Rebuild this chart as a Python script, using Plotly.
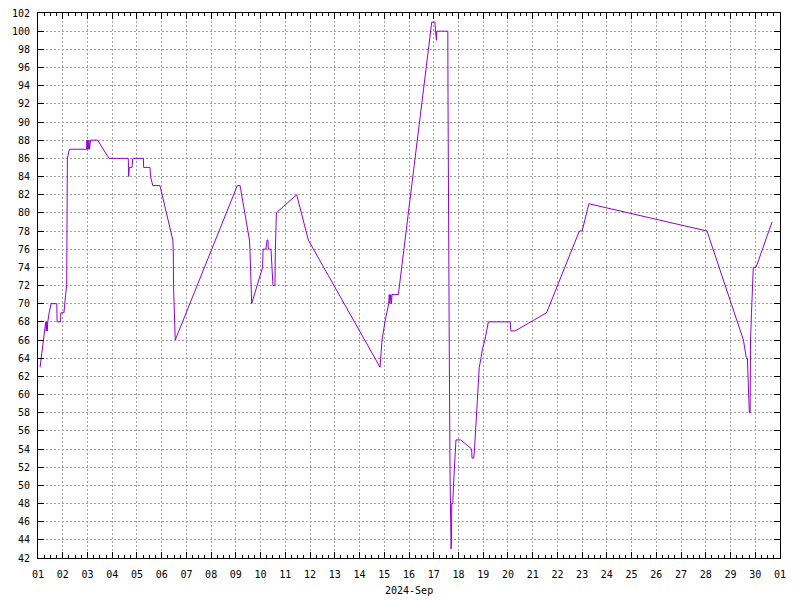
import plotly.graph_objects as go

times = [
    "2024-09-01 02:00", "2024-09-01 03:00", "2024-09-01 04:00", "2024-09-01 05:00",
    "2024-09-01 06:30", "2024-09-01 07:30", "2024-09-01 08:00", "2024-09-01 08:30",
    "2024-09-01 09:00", "2024-09-01 09:30", "2024-09-01 10:50", "2024-09-01 12:40",
    "2024-09-01 18:15", "2024-09-01 18:30", "2024-09-01 21:50", "2024-09-01 22:10",
    "2024-09-02 01:10", "2024-09-02 01:40", "2024-09-02 02:50", "2024-09-02 03:50",
    "2024-09-02 04:30", "2024-09-02 06:30", "2024-09-02 23:15", "2024-09-02 23:30",
    "2024-09-02 23:50", "2024-09-03 00:20", "2024-09-03 00:50", "2024-09-03 01:30",
    "2024-09-03 02:00", "2024-09-03 03:00", "2024-09-03 09:50", "2024-09-03 20:50",
    "2024-09-04 15:35", "2024-09-04 15:50", "2024-09-04 16:05", "2024-09-04 16:30",
    "2024-09-04 19:10", "2024-09-04 19:30", "2024-09-04 19:45", "2024-09-04 20:00",
    "2024-09-05 06:15", "2024-09-05 06:30", "2024-09-05 12:40", "2024-09-05 13:10",
    "2024-09-05 15:20", "2024-09-05 22:20", "2024-09-06 10:50", "2024-09-06 11:15",
    "2024-09-06 11:30", "2024-09-06 12:30", "2024-09-06 13:10", "2024-09-09 01:25",
    "2024-09-09 04:05", "2024-09-09 13:10", "2024-09-09 13:40", "2024-09-09 15:20",
    "2024-09-10 01:55", "2024-09-10 02:25", "2024-09-10 05:15", "2024-09-10 06:15",
    "2024-09-10 07:10", "2024-09-10 07:30", "2024-09-10 10:05", "2024-09-10 12:00",
    "2024-09-10 13:55", "2024-09-10 14:20", "2024-09-10 15:20", "2024-09-11 11:00",
    "2024-09-11 22:20", "2024-09-14 19:55", "2024-09-14 21:50", "2024-09-15 00:40",
    "2024-09-15 02:50", "2024-09-15 04:20", "2024-09-15 04:50", "2024-09-15 05:30",
    "2024-09-15 06:15", "2024-09-15 07:00", "2024-09-15 07:30", "2024-09-15 13:40",
    "2024-09-16 22:05", "2024-09-17 01:10", "2024-09-17 01:40", "2024-09-17 02:00",
    "2024-09-17 02:20", "2024-09-17 02:40", "2024-09-17 02:55", "2024-09-17 13:40",
    "2024-09-17 13:50", "2024-09-17 14:10", "2024-09-17 15:05", "2024-09-17 15:50",
    "2024-09-17 16:50", "2024-09-17 17:05", "2024-09-17 17:15", "2024-09-17 17:30",
    "2024-09-17 18:30", "2024-09-17 19:10", "2024-09-17 20:25", "2024-09-17 21:35",
    "2024-09-18 02:10", "2024-09-18 12:45", "2024-09-18 13:10", "2024-09-18 14:50",
    "2024-09-18 15:35", "2024-09-18 16:35", "2024-09-18 17:15", "2024-09-18 18:15",
    "2024-09-18 19:10", "2024-09-18 20:10", "2024-09-18 21:50", "2024-09-18 23:15",
    "2024-09-19 01:40", "2024-09-19 03:20", "2024-09-19 05:00", "2024-09-20 02:10",
    "2024-09-20 02:50", "2024-09-20 07:00", "2024-09-21 13:30", "2024-09-22 21:20",
    "2024-09-23 00:00", "2024-09-23 06:30", "2024-09-28 01:10", "2024-09-29 12:30",
    "2024-09-29 13:55", "2024-09-29 15:20", "2024-09-29 16:20", "2024-09-29 18:15",
    "2024-09-29 19:00", "2024-09-29 19:25", "2024-09-29 20:20", "2024-09-29 21:20",
    "2024-09-29 22:05", "2024-09-30 00:45", "2024-09-30 16:20",
]

values = [
    63, 64, 65, 66,
    67, 68, 67, 68,
    67, 68, 69, 70,
    70, 68, 68, 69,
    69, 70, 71, 72,
    86, 87, 87, 88,
    87, 88, 87, 88,
    87, 88, 88, 86,
    86, 85, 84, 85,
    85, 86, 85, 86,
    86, 85, 85, 84,
    83, 83, 77, 76,
    72, 68, 66, 83,
    83, 77, 76, 70,
    74, 76, 76, 77,
    77, 76, 76, 72,
    72, 76, 80, 82,
    77, 63, 66, 68,
    69, 70, 71, 70,
    71, 70, 71, 71,
    101, 101, 100, 99,
    100, 99, 100, 100,
    93, 79, 65, 51,
    43, 45, 44, 48,
    48, 50, 53, 55,
    55, 54, 53, 53,
    54, 56, 58, 60,
    62, 63, 64, 65,
    66, 67, 68, 68,
    67, 67, 69, 78,
    78, 81, 78, 66,
    65, 64, 64, 58,
    58, 66, 69, 72,
    74, 74, 79,
]

x_range = ["2024-09-01 00:00", "2024-10-01 00:00"]
y_range = [42, 102]
x_title = "2024-Sep"

font_name = "DejaVu Sans Mono"

fig = go.Figure()
fig.add_trace(go.Scatter(
    x=times, y=values, mode="lines",
    line=dict(color="#9400d3", width=1),
    hoverinfo="skip", showlegend=False,
))

# page body has an 8px margin, so the figure is offset by 8px
fig.update_layout(
    width=792, height=592,
    margin=dict(l=30, r=20, t=5, b=42),
    paper_bgcolor="white", plot_bgcolor="white",
    font=dict(family=font_name, size=10, color="black"),
)

fig.update_xaxes(
    type="date", range=x_range, automargin=False,
    dtick=86400000, tick0="2024-09-01", tickformat="%d",
    ticks="inside", ticklen=6, tickwidth=1, tickcolor="black",
    ticklabelstandoff=7, ticklabeloverflow="allow",
    minor=dict(dtick=21600000, ticks="inside", ticklen=3, tickcolor="black", showgrid=False),
    showline=True, linecolor="black", linewidth=1, mirror="allticks",
    showgrid=True, gridcolor="#a0a0a0", gridwidth=1, griddash="2px,2px",
    zeroline=False,
    tickfont=dict(family=font_name, size=10),
)

fig.update_yaxes(
    range=y_range, dtick=2, tick0=42, automargin=False,
    ticks="inside", ticklen=6, tickwidth=1, tickcolor="black",
    ticklabelstandoff=5, ticklabeloverflow="allow",
    showline=True, linecolor="black", linewidth=1, mirror="allticks",
    showgrid=True, gridcolor="#a0a0a0", gridwidth=1, griddash="2px,2px",
    zeroline=False,
    tickfont=dict(family=font_name, size=10),
)

fig.add_annotation(
    text=x_title, xref="paper", yref="paper", x=0.5, y=-32 / 545,
    xanchor="center", yanchor="middle", showarrow=False,
    font=dict(family=font_name, size=10, color="black"),
)

fig.write_html("out.html")
